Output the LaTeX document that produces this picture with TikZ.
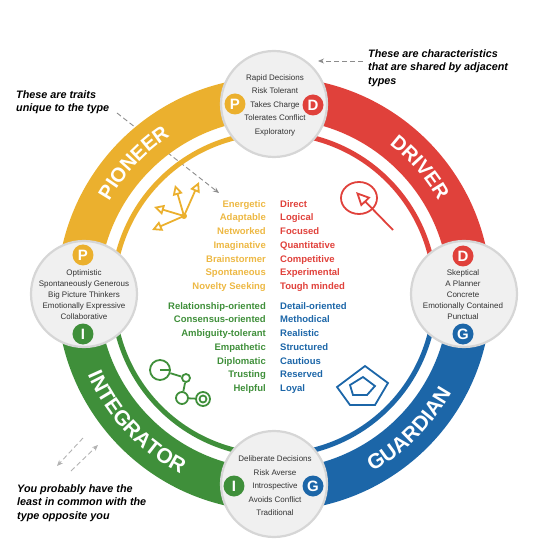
\documentclass[tikz,border=0pt]{standalone}
\usepackage{fontspec}
\setmainfont{Liberation Sans}
\usetikzlibrary{positioning,arrows.meta,calc,decorations.text}
\definecolor{pioneercol}{HTML}{EBB02E}
\definecolor{drivercol}{HTML}{E0413B}
\definecolor{integcol}{HTML}{3F8F3A}
\definecolor{guardcol}{HTML}{1C66A8}
\newcommand{\ringfont}{\fontsize{20}{20}\selectfont\bfseries\color{white}}
\newcommand{\ringfontb}{\fontsize{21}{21}\selectfont\bfseries\color{white}}

\begin{document}
\begin{tikzpicture}[x=1pt, y=1pt,
  thickarc/.style={line width=42pt},
  thinarc/.style={line width=5pt},
  hub/.style={circle, draw=black!16, line width=2.2pt, fill=black!6, minimum size=106pt, inner sep=0pt},
  hubtext/.style={align=center, text=black!80, inner sep=0pt},
  badge/.style={circle, minimum size=21pt, inner sep=0pt, text=white, font=\fontsize{15}{15}\selectfont\bfseries},
  traits/.style={inner sep=0pt, font=\fontsize{9.5}{13.75}\selectfont\bfseries},
  note/.style={inner sep=0pt, align=left, anchor=north west, font=\fontsize{10.8}{13.6}\selectfont\bfseries\itshape},
  notearr/.style={-{Stealth[length=6pt,width=5pt]}, draw=black!45, dash pattern=on 5pt off 3pt, line width=0.9pt},
  icon/.style={line width=1.8pt},
  openarr/.style={icon, -{Triangle[open,length=10pt,width=10pt]}},
  bigopenarr/.style={icon, -{Triangle[open,length=14pt,width=13pt]}},
  ringtext/.style={decorate, decoration={text along path, text align=center, text={#1}}}]
\useasboundingbox (-274,-249) rectangle (260,294);
% pointer that runs under the ring
\coordinate (traitstart) at (-157,181);
\coordinate (traitend) at (-55,101);
\draw[notearr] (traitstart) -- (traitend);
% rings
\draw[thickarc, pioneercol] (180:196) arc[start angle=180, end angle=90, radius=196];
\draw[thickarc, drivercol] (90:196) arc[start angle=90, end angle=0, radius=196];
\draw[thickarc, guardcol] (0:196) arc[start angle=0, end angle=-90, radius=196];
\draw[thickarc, integcol] (-90:196) arc[start angle=-90, end angle=-180, radius=196];
\draw[thinarc, pioneercol] (180:161) arc[start angle=180, end angle=90, radius=161];
\draw[thinarc, drivercol] (90:161) arc[start angle=90, end angle=0, radius=161];
\draw[thinarc, guardcol] (0:161) arc[start angle=0, end angle=-90, radius=161];
\draw[thinarc, integcol] (-90:161) arc[start angle=-90, end angle=-180, radius=161];
% ring names
\path[ringtext={|\ringfont|PIONEER}] (177:189) arc[start angle=177, end angle=97, radius=189];
\path[ringtext={|\ringfont|DRIVER}] (81:189) arc[start angle=81, end angle=1, radius=189];
\path[ringtext={|\ringfontb|INTEGRATOR}] (183:203) arc[start angle=183, end angle=263, radius=203];
\path[ringtext={|\ringfontb|GUARDIAN}] (-85:203) arc[start angle=-85, end angle=-5, radius=203];
% hubs
\node[hub] (hubtop) at (0,190) {};
\node[hub] (hubleft) at (-190,0) {};
\node[hub] (hubright) at (190,0) {};
\node[hub] (hubbottom) at (0,-190) {};
\node[hubtext, font=\fontsize{8}{13.5}\selectfont] (toptext) at (1,189)
  {Rapid Decisions\\Risk Tolerant\\Takes Charge\\Tolerates Conflict\\Exploratory};
\node[hubtext, font=\fontsize{8}{11}\selectfont] (lefttext) at (-190,-1)
  {Optimistic\\Spontaneously Generous\\Big Picture Thinkers\\Emotionally Expressive\\Collaborative};
\node[hubtext, font=\fontsize{8}{11}\selectfont] (righttext) at (189,-1)
  {Skeptical\\A Planner\\Concrete\\Emotionally Contained\\Punctual};
\node[hubtext, font=\fontsize{8}{13.5}\selectfont] (bottomtext) at (1,-192)
  {Deliberate Decisions\\Risk Averse\\Introspective\\Avoids Conflict\\Traditional};
% badges
\node[badge, fill=pioneercol] (ptop) at (-39,190) {P};
\node[badge, fill=drivercol] (dtop) at (39,189) {D};
\node[badge, fill=pioneercol] (pleft) at (-191,39) {P};
\node[badge, fill=integcol] (ileft) at (-191,-40) {I};
\node[badge, fill=drivercol] (dright) at (189,38) {D};
\node[badge, fill=guardcol] (gright) at (189,-40) {G};
\node[badge, fill=integcol] (ibottom) at (-40,-192) {I};
\node[badge, fill=guardcol] (gbottom) at (39,-192) {G};
% traits
\node[traits, align=right, anchor=north east, text=pioneercol!90!white] (pioneertraits) at (-8,94)
  {Energetic\\Adaptable\\Networked\\Imaginative\\Brainstormer\\Spontaneous\\Novelty Seeking};
\node[traits, align=left, anchor=north west, text=drivercol] (drivertraits) at (6,94)
  {Direct\\Logical\\Focused\\Quantitative\\Competitive\\Experimental\\Tough minded};
\node[traits, align=right, anchor=north east, text=integcol] (integtraits) at (-8,-8)
  {Relationship-oriented\\Consensus-oriented\\Ambiguity-tolerant\\Empathetic\\Diplomatic\\Trusting\\Helpful};
\node[traits, align=left, anchor=north west, text=guardcol] (guardtraits) at (6,-8)
  {Detail-oriented\\Methodical\\Realistic\\Structured\\Cautious\\Reserved\\Loyal};
% icons
\fill[pioneercol] (-90,78) circle (3pt);
\draw[openarr, pioneercol] (-90,78) -- (-75,112);
\draw[openarr, pioneercol] (-90,78) -- (-99,109);
\draw[openarr, pioneercol] (-90,78) -- (-120,87);
\draw[openarr, pioneercol] (-90,78) -- (-122,64);
\draw[icon, drivercol] (85,96) ellipse (18pt and 16pt);
\draw[bigopenarr, drivercol] (119,64) -- (82,102);
\draw[icon, guardcol] (91,-72) -- (114,-89) -- (101,-111) -- (76,-111) -- (63,-93) -- cycle;
\draw[icon, guardcol] (89,-83) -- (101,-92) -- (93,-101) -- (79,-101) -- (76,-91) -- cycle;
\node[circle, draw=integcol, icon, minimum size=20pt, inner sep=0pt] (gearA) at (-114,-76) {};
\node[circle, draw=integcol, icon, minimum size=8pt, inner sep=0pt] (gearB) at (-88,-84) {};
\node[circle, draw=integcol, icon, minimum size=12pt, inner sep=0pt] (gearC) at (-92,-104) {};
\node[circle, draw=integcol, icon, minimum size=14pt, inner sep=0pt] (gearD) at (-71,-105) {};
\node[circle, draw=integcol, icon, minimum size=7pt, inner sep=0pt] (gearE) at (-71,-105) {};
\draw[icon, integcol] (gearA.center) -- (gearA.east);
\draw[icon, integcol] (gearA) -- (gearB);
\draw[icon, integcol] (gearB) -- (gearC);
\draw[icon, integcol] (gearC) -- (gearD);
% notes
\node[note] (traitnote) at (-258,204) {These are traits\\unique to the type};
\node[note] (sharednote) at (94,245) {These are characteristics\\that are shared by adjacent\\types};
\node[note] (oppositenote) at (-257,-190) {You probably have the\\least in common with the\\type opposite you};
\coordinate (sharedstart) at (89,233);
\coordinate (sharedend) at (44,233);
\draw[notearr] (sharedstart) -- (sharedend);
\coordinate (oppAstart) at (-191,-144);
\coordinate (oppAend) at (-217,-172);
\coordinate (oppBstart) at (-203,-177);
\coordinate (oppBend) at (-176,-151);
\draw[notearr, draw=black!30] (oppAstart) -- (oppAend);
\draw[notearr, draw=black!30] (oppBstart) -- (oppBend);
\end{tikzpicture}
\end{document}
